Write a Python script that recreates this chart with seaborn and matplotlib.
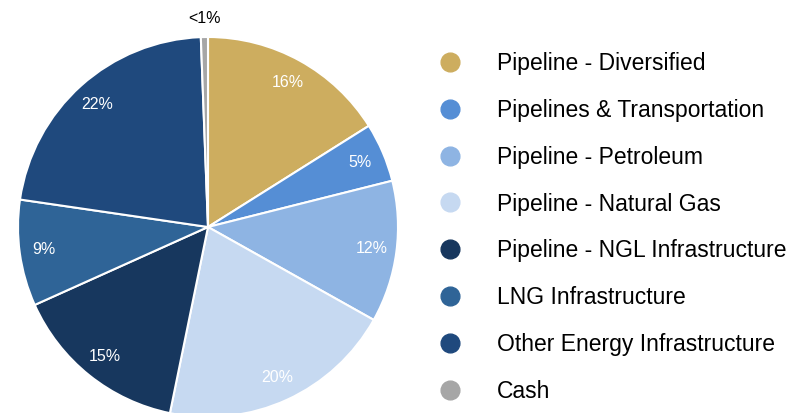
import matplotlib
matplotlib.use("Agg")
import matplotlib.pyplot as plt
from matplotlib.lines import Line2D
import seaborn as sns

categories = ["Pipeline - Diversified", "Pipelines & Transportation", "Pipeline - Petroleum",
              "Pipeline - Natural Gas", "Pipeline - NGL Infrastructure", "LNG Infrastructure",
              "Other Energy Infrastructure", "Cash"]
values = [16, 5, 12, 20, 15, 9, 22, 0.6]
pct_labels = ["16%", "5%", "12%", "20%", "15%", "9%", "22%", "<1%"]
colors = ["#CDAD5F", "#558ED5", "#8EB4E3", "#C6D9F1", "#17375E", "#2F6497", "#1F497D", "#A6A6A6"]

sns.set_theme(style="white")
plt.rcParams['font.family'] = ['Liberation Sans', 'DejaVu Sans']

fig = plt.figure(figsize=(7.89, 4.13), dpi=100)
ax = fig.add_axes([18/789, -4/413, 380/789, 380/413])

wedges, texts = ax.pie(values, colors=colors, startangle=90, counterclock=False,
                       labels=pct_labels, labeldistance=0.87,
                       wedgeprops=dict(edgecolor="white", linewidth=1.5))
for i, t in enumerate(texts):
    t.set_ha("center"); t.set_va("center")
    t.set_fontsize(11.5)
    t.set_color("white")
# cash label outside in black
texts[-1].set_color("black")
texts[-1].set_fontsize(11.5)
x, y = texts[-1].get_position()
texts[-1].set_position((x / 0.87 * 1.1, y / 0.87 * 1.1))
ax.set_xlim(-1, 1)
ax.set_ylim(-1, 1)
ax.set_aspect("equal")
ax.axis("off")

handles = [Line2D([0], [0], marker="o", linestyle="none", markersize=13.5,
                  markerfacecolor=c, markeredgecolor=c) for c in colors]
leg = fig.legend(handles, categories, loc="upper left", bbox_to_anchor=(433/789, 1 - 52/413),
                 frameon=False, fontsize=16.5, handletextpad=1.3, labelspacing=1.04,
                 borderpad=0, borderaxespad=0, handlelength=1.5)
for t in leg.get_texts():
    t.set_color("black")

fig.savefig("out.png", dpi=100)
